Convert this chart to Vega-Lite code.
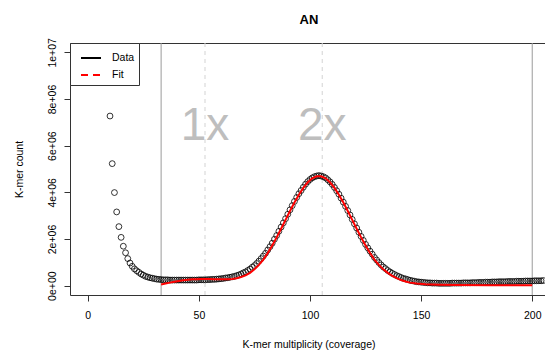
{
  "$schema": "https://vega.github.io/schema/vega-lite/v6.json",
  "width": 475,
  "height": 252,
  "autosize": {"type": "none"},
  "padding": {"left": 70, "top": 43, "right": 0, "bottom": 58},
  "background": "white",
  "config": {"view": {"stroke": null}, "font": "Liberation Sans", "axis": {"grid": false}},
  "title": {"text": "AN", "fontSize": 13, "fontWeight": "bold", "font": "Liberation Sans", "color": "#000", "anchor": "middle", "frame": "group", "dx": 1.5, "dy": 20, "baseline": "alphabetic", "offset": 21},
  "datasets": {
    "solid": [{"x": 33}, {"x": 200}],
    "peaks": [{"label": "1x", "x": 52.75}, {"label": "2x", "x": 105.5}],
    "points": [
      {"x":10,"count":7270000},{"x":11,"count":5230000},{"x":12,"count":3990000},{"x":13,"count":3160000},{"x":14,"count":2530000},
      {"x":15,"count":2070000},{"x":16,"count":1690000},{"x":17,"count":1410000},{"x":18,"count":1160000},{"x":19,"count":970000},
      {"x":20,"count":830000},{"x":21,"count":720000},{"x":22,"count":640000},{"x":23,"count":570000},{"x":24,"count":500000},
      {"x":25,"count":450000},{"x":26,"count":400000},{"x":27,"count":370000},{"x":28,"count":340000},{"x":29,"count":320000},
      {"x":30,"count":300000},{"x":31,"count":280000},{"x":32,"count":270000},{"x":33,"count":260000},{"x":34,"count":250000},
      {"x":35,"count":250000},{"x":36,"count":250000},{"x":37,"count":240000},{"x":38,"count":240000},{"x":39,"count":240000},
      {"x":40,"count":240000},{"x":41,"count":240000},{"x":42,"count":240000},{"x":43,"count":240000},{"x":44,"count":240000},
      {"x":45,"count":240000},{"x":46,"count":240000},{"x":47,"count":240000},{"x":48,"count":240000},{"x":49,"count":240000},
      {"x":50,"count":250000},{"x":51,"count":250000},{"x":52,"count":250000},{"x":53,"count":250000},{"x":54,"count":260000},
      {"x":55,"count":260000},{"x":56,"count":270000},{"x":57,"count":270000},{"x":58,"count":280000},{"x":59,"count":290000},
      {"x":60,"count":300000},{"x":61,"count":310000},{"x":62,"count":330000},{"x":63,"count":340000},{"x":64,"count":360000},
      {"x":65,"count":380000},{"x":66,"count":400000},{"x":67,"count":430000},{"x":68,"count":460000},{"x":69,"count":500000},
      {"x":70,"count":550000},{"x":71,"count":590000},{"x":72,"count":650000},{"x":73,"count":710000},{"x":74,"count":790000},
      {"x":75,"count":860000},{"x":76,"count":950000},{"x":77,"count":1050000},{"x":78,"count":1160000},{"x":79,"count":1270000},
      {"x":80,"count":1390000},{"x":81,"count":1530000},{"x":82,"count":1670000},{"x":83,"count":1820000},{"x":84,"count":1990000},
      {"x":85,"count":2150000},{"x":86,"count":2330000},{"x":87,"count":2510000},{"x":88,"count":2690000},{"x":89,"count":2870000},
      {"x":90,"count":3060000},{"x":91,"count":3250000},{"x":92,"count":3430000},{"x":93,"count":3610000},{"x":94,"count":3780000},
      {"x":95,"count":3940000},{"x":96,"count":4080000},{"x":97,"count":4220000},{"x":98,"count":4350000},{"x":99,"count":4460000},
      {"x":100,"count":4550000},{"x":101,"count":4620000},{"x":102,"count":4670000},{"x":103,"count":4700000},{"x":104,"count":4720000},
      {"x":105,"count":4700000},{"x":106,"count":4670000},{"x":107,"count":4620000},{"x":108,"count":4540000},{"x":109,"count":4450000},
      {"x":110,"count":4340000},{"x":111,"count":4210000},{"x":112,"count":4070000},{"x":113,"count":3920000},{"x":114,"count":3750000},
      {"x":115,"count":3580000},{"x":116,"count":3400000},{"x":117,"count":3220000},{"x":118,"count":3030000},{"x":119,"count":2840000},
      {"x":120,"count":2650000},{"x":121,"count":2470000},{"x":122,"count":2290000},{"x":123,"count":2110000},{"x":124,"count":1940000},
      {"x":125,"count":1770000},{"x":126,"count":1620000},{"x":127,"count":1480000},{"x":128,"count":1350000},{"x":129,"count":1210000},
      {"x":130,"count":1100000},{"x":131,"count":990000},{"x":132,"count":890000},{"x":133,"count":800000},{"x":134,"count":730000},
      {"x":135,"count":650000},{"x":136,"count":590000},{"x":137,"count":530000},{"x":138,"count":480000},{"x":139,"count":430000},
      {"x":140,"count":390000},{"x":141,"count":350000},{"x":142,"count":310000},{"x":143,"count":290000},{"x":144,"count":260000},
      {"x":145,"count":230000},{"x":146,"count":210000},{"x":147,"count":190000},{"x":148,"count":170000},{"x":149,"count":160000},
      {"x":150,"count":150000},{"x":151,"count":140000},{"x":152,"count":130000},{"x":153,"count":120000},{"x":154,"count":120000},
      {"x":155,"count":110000},{"x":156,"count":110000},{"x":157,"count":110000},{"x":158,"count":100000},{"x":159,"count":100000},
      {"x":160,"count":100000},{"x":161,"count":100000},{"x":162,"count":100000},{"x":163,"count":100000},{"x":164,"count":110000},
      {"x":165,"count":110000},{"x":166,"count":110000},{"x":167,"count":110000},{"x":168,"count":110000},{"x":169,"count":120000},
      {"x":170,"count":120000},{"x":171,"count":120000},{"x":172,"count":120000},{"x":173,"count":130000},{"x":174,"count":130000},
      {"x":175,"count":130000},{"x":176,"count":140000},{"x":177,"count":140000},{"x":178,"count":140000},{"x":179,"count":150000},
      {"x":180,"count":150000},{"x":181,"count":150000},{"x":182,"count":160000},{"x":183,"count":160000},{"x":184,"count":160000},
      {"x":185,"count":170000},{"x":186,"count":170000},{"x":187,"count":170000},{"x":188,"count":170000},{"x":189,"count":180000},
      {"x":190,"count":180000},{"x":191,"count":180000},{"x":192,"count":180000},{"x":193,"count":190000},{"x":194,"count":190000},
      {"x":195,"count":190000},{"x":196,"count":190000},{"x":197,"count":200000},{"x":198,"count":200000},{"x":199,"count":200000},
      {"x":200,"count":200000},{"x":201,"count":210000},{"x":202,"count":210000},{"x":203,"count":210000},{"x":204,"count":210000},
      {"x":205,"count":220000}
    ],
    "fit": [
      {"x":33,"count":50000},{"x":35,"count":90000},{"x":37,"count":130000},{"x":39,"count":170000},{"x":41,"count":200000},
      {"x":43,"count":230000},{"x":45,"count":250000},{"x":47,"count":270000},{"x":49,"count":280000},{"x":51,"count":290000},
      {"x":53,"count":290000},{"x":55,"count":290000},{"x":57,"count":280000},{"x":59,"count":270000},{"x":61,"count":270000},
      {"x":63,"count":270000},{"x":65,"count":290000},{"x":67,"count":320000},{"x":69,"count":370000},{"x":71,"count":440000},
      {"x":73,"count":550000},{"x":75,"count":700000},{"x":77,"count":890000},{"x":79,"count":1120000},{"x":81,"count":1400000},
      {"x":83,"count":1720000},{"x":85,"count":2070000},{"x":87,"count":2440000},{"x":89,"count":2820000},{"x":91,"count":3200000},
      {"x":93,"count":3560000},{"x":95,"count":3900000},{"x":97,"count":4190000},{"x":99,"count":4430000},{"x":101,"count":4600000},
      {"x":103,"count":4690000},{"x":105,"count":4690000},{"x":107,"count":4600000},{"x":109,"count":4430000},{"x":111,"count":4190000},
      {"x":113,"count":3900000},{"x":115,"count":3560000},{"x":117,"count":3200000},{"x":119,"count":2820000},{"x":121,"count":2440000},
      {"x":123,"count":2070000},{"x":125,"count":1720000},{"x":127,"count":1400000},{"x":129,"count":1120000},{"x":131,"count":890000},
      {"x":133,"count":700000},{"x":135,"count":550000},{"x":137,"count":420000},{"x":139,"count":320000},{"x":141,"count":240000},
      {"x":143,"count":180000},{"x":145,"count":130000},{"x":148,"count":90000},{"x":152,"count":60000},{"x":158,"count":40000},
      {"x":166,"count":30000},{"x":180,"count":20000},{"x":200,"count":20000}
    ]
  },
  "layer": [
    {
      "data": {"name": "solid"},
      "mark": {"type": "rule", "color": "#9a9a9a", "strokeWidth": 1},
      "encoding": {"x": {"field": "x", "type": "quantitative", "axis": null}}
    },
    {
      "data": {"name": "peaks"},
      "mark": {"type": "rule", "color": "#d3d3d3", "strokeWidth": 1, "strokeDash": [4, 4]},
      "encoding": {"x": {"field": "x", "type": "quantitative", "axis": null}}
    },
    {
      "data": {"name": "peaks"},
      "mark": {"type": "text", "fontSize": 46, "color": "#bebebe", "align": "center", "baseline": "alphabetic", "font": "Liberation Sans"},
      "encoding": {
        "x": {"field": "x", "type": "quantitative", "axis": null},
        "y": {"datum": 6260000, "type": "quantitative"},
        "text": {"field": "label"}
      }
    },
    {
      "data": {"name": "points"},
      "mark": {"type": "point", "shape": "circle", "filled": false, "size": 34, "stroke": "#000", "strokeWidth": 0.8, "opacity": 1, "clip": true},
      "encoding": {
        "x": {"field": "x", "type": "quantitative",
          "scale": {"domain": [-8, 205.75], "nice": false, "zero": false},
          "axis": {"values": [0, 50, 100, 150, 200], "title": "K-mer multiplicity (coverage)", "orient": "bottom",
            "domainColor": "#333", "tickColor": "#333", "tickSize": 6, "labelPadding": 9, "labelFontSize": 10.5, "labelColor": "#000",
            "labelFont": "Liberation Sans", "titleFont": "Liberation Sans", "titleFontSize": 10.5, "titleFontWeight": "normal", "titleColor": "#000",
            "titleX": 238.5, "titleY": 52, "titleBaseline": "alphabetic", "titleAlign": "center", "labelFlush": false}},
        "y": {"field": "count", "type": "quantitative",
          "scale": {"domain": [-400000, 10400000], "nice": false, "zero": false},
          "axis": {"values": [0, 2000000, 4000000, 6000000, 8000000, 10000000], "title": "K-mer count",
            "labelExpr": "datum.value == 0 ? '0e+00' : datum.value == 10000000 ? '1e+07' : (datum.value / 1000000) + 'e+06'",
            "labelAngle": 270, "labelAlign": "center", "labelBaseline": "alphabetic", "labelFlush": false,
            "domainColor": "#333", "tickColor": "#333", "tickSize": 6, "labelPadding": 9, "labelFontSize": 10.5, "labelColor": "#000",
            "labelFont": "Liberation Sans", "titleFont": "Liberation Sans", "titleFontSize": 10.5, "titleFontWeight": "normal", "titleColor": "#000",
            "titleX": -48, "titleY": 126, "titleAngle": 270, "titleBaseline": "alphabetic", "titleAlign": "center"}}
      }
    },
    {
      "data": {"name": "fit"},
      "mark": {"type": "line", "strokeWidth": 2, "clip": true},
      "encoding": {
        "x": {"field": "x", "type": "quantitative", "axis": {"orient": "top", "labels": false, "ticks": false, "title": null, "domainColor": "#333", "domainWidth": 1, "minExtent": 0, "maxExtent": 0}},
        "y": {"field": "count", "type": "quantitative"},
        "color": {"datum": "Fit", "type": "nominal",
          "scale": {"domain": ["Data", "Fit"], "range": ["#000000", "#ff0000"]},
          "legend": {"title": null, "orient": "top-left", "offset": 0, "symbolType": "stroke", "symbolSize": 400, "symbolStrokeWidth": 2,
            "symbolOffset": 6, "labelOffset": 10, "labelFontSize": 10.5, "labelFont": "Liberation Sans", "labelColor": "#000",
            "padding": 4, "rowPadding": -6, "strokeColor": "#333", "fillColor": "#ffffff",
            "encode": {"symbols": {"update": {"strokeDash": {"signal": "datum.value === 'Fit' ? [7, 5] : [1, 0]"}}}}}}
      }
    }
  ],
  "resolve": {"axis": {"x": "independent"}}
}
